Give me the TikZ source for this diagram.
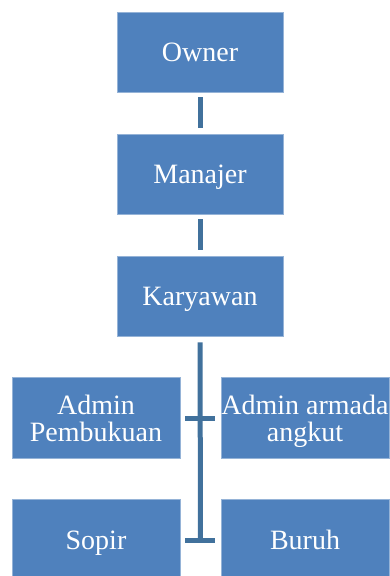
\documentclass[tikz,border=0pt]{standalone}
\usepackage{fontspec}
\setmainfont{Liberation Serif}
\usetikzlibrary{calc}
\definecolor{boxblue}{HTML}{4F81BD}
\definecolor{linkblue}{HTML}{41719C}
\tikzset{
  orgbox/.style={rectangle, fill=boxblue, draw=boxblue!60!white, line width=0.6pt,
    text=white, align=center, inner sep=0pt,
    font=\fontsize{28}{27}\selectfont, text height=19pt, text depth=0pt},
  twoline/.style={text height=46pt},
  topbox/.style={orgbox, minimum width=166pt, minimum height=80pt},
  subbox/.style={orgbox, minimum width=168pt, minimum height=81pt},
  link/.style={draw=linkblue, line width=5pt, line cap=butt}
}
\begin{document}
\begin{tikzpicture}[x=1pt,y=-1pt]
\useasboundingbox (0,0) rectangle (389,576);
\node[topbox] (owner) at (200,52) {Owner};
\node[topbox] (manajer) at (200,174) {Manajer};
\node[topbox] (karyawan) at (200,296) {Karyawan};
\node[subbox, twoline] (adminp) at (96,418) {Admin\\Pembukuan};
\node[subbox, twoline] (admina) at (305,418) {Admin armada\\angkut};
\node[subbox] (sopir) at (96,540) {Sopir};
\node[subbox] (buruh) at (305,540) {Buruh};
\coordinate (t2) at ($(sopir.east)!0.5!(buruh.west)$);
\draw[link, shorten <=5pt, shorten >=6pt] (owner.south) -- (manajer.north);
\draw[link, shorten <=5pt, shorten >=6pt] (manajer.south) -- (karyawan.north);
\draw[link, shorten <=6pt, shorten >=-2.5pt] (karyawan.south) -- (t2);
\draw[link, shorten <=5pt, shorten >=6pt] (adminp.east) -- (admina.west);
\draw[link, shorten <=5pt, shorten >=6pt] (sopir.east) -- (buruh.west);
\end{tikzpicture}
\end{document}
